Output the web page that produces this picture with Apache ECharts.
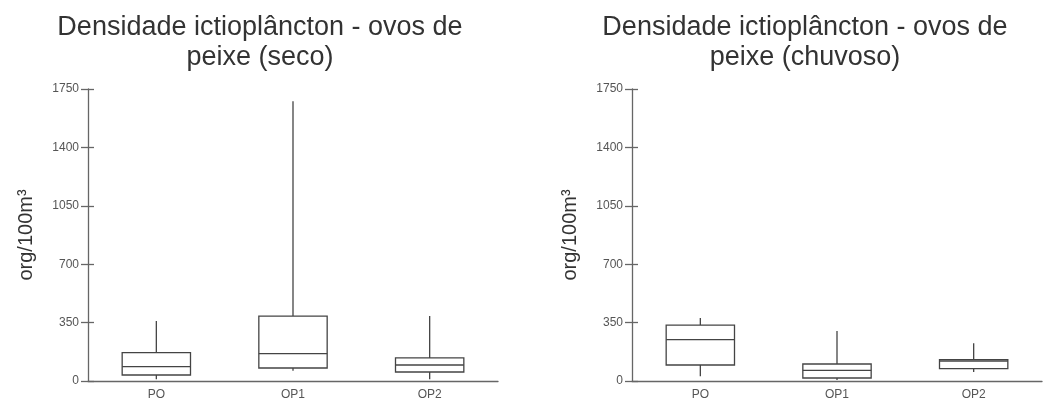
<!DOCTYPE html>
<html>
<head>
<meta charset="utf-8">
<title>Densidade ictioplâncton - ovos de peixe</title>
<script src="https://cdn.jsdelivr.net/npm/echarts@6/dist/echarts.min.js"></script>
<style>
  html, body { margin: 0; padding: 0; background: #ffffff; }
  #chart { width: 1043px; height: 401px; }
</style>
</head>
<body>
<div id="chart"></div>
<script>
// Sampling points
const categories = ['PO', 'OP1', 'OP2'];

// Box statistics per point: [min, Q1, median, Q3, max] in org/100m³
const secoStats = [
  [10, 36, 86, 170, 359],
  [62, 78, 164, 389, 1676],
  [10, 54, 96, 138, 389]
];
const chuvosoStats = [
  [28, 96, 248, 335, 377],
  [6, 18, 64, 102, 299],
  [54, 74, 120, 128, 226]
];

// Y axis ticks
const yMin = 0;
const yMax = 1750;
const yStep = 350;

const titles = [
  'Densidade ictioplâncton - ovos de\npeixe (seco)',
  'Densidade ictioplâncton - ovos de\npeixe (chuvoso)'
];
const yName = 'org/100m³';

const FONT = '"Liberation Sans", Arial, Helvetica, sans-serif';
const LINE = '#444444';
const AXIS = '#666666';
const LABEL = '#555555';

// Box-and-whisker without end caps, drawn through the axis scales
function renderBox(params, api) {
  const idx = api.value(0);
  const lo = api.coord([idx, api.value(1)]);
  const q1 = api.coord([idx, api.value(2)]);
  const med = api.coord([idx, api.value(3)]);
  const q3 = api.coord([idx, api.value(4)]);
  const hi = api.coord([idx, api.value(5)]);
  const half = api.size([1, 0])[0] * 0.25;
  const x = med[0];
  const stroke = { stroke: LINE, lineWidth: 1.3, fill: null };
  return {
    type: 'group',
    children: [
      { type: 'line', shape: { x1: x, y1: hi[1], x2: x, y2: q3[1] }, style: stroke },
      { type: 'line', shape: { x1: x, y1: q1[1], x2: x, y2: lo[1] }, style: stroke },
      { type: 'rect', shape: { x: x - half, y: q3[1], width: half * 2, height: q1[1] - q3[1] },
        style: { stroke: LINE, lineWidth: 1.3, fill: '#ffffff' } },
      { type: 'line', shape: { x1: x - half, y1: med[1], x2: x + half, y2: med[1] }, style: stroke }
    ]
  };
}

function toRows(stats) {
  return stats.map((s, i) => [i].concat(s));
}

const grids = [
  { left: 88, width: 410, top: 89, bottom: 19.5 },
  { left: 632, width: 410, top: 89, bottom: 19.5 }
];

const xAxes = grids.map((g, i) => ({
  type: 'category',
  gridIndex: i,
  data: categories,
  axisLine: { lineStyle: { color: AXIS, width: 1.3 } },
  axisTick: { show: false },
  axisLabel: { color: LABEL, fontSize: 12, fontFamily: FONT, margin: 8 },
  splitLine: { show: false }
}));

const yAxes = [];
grids.forEach((g, i) => {
  // main axis: outward ticks with labels
  yAxes.push({
    type: 'value',
    gridIndex: i,
    min: yMin, max: yMax, interval: yStep,
    name: yName,
    nameLocation: 'middle',
    nameGap: 52,
    nameTextStyle: { fontSize: 20, color: '#333333', fontFamily: FONT },
    axisLine: { show: true, lineStyle: { color: AXIS, width: 1.3 } },
    axisTick: { show: true, length: 7, lineStyle: { color: AXIS, width: 1.3 } },
    axisLabel: { color: LABEL, fontSize: 12, fontFamily: FONT, margin: 9,
      formatter: (v) => String(v) },
    splitLine: { show: false }
  });
  // overlay axis: inward half of the crossing ticks
  yAxes.push({
    type: 'value',
    gridIndex: i,
    min: yMin, max: yMax, interval: yStep,
    position: 'left',
    axisLine: { show: false },
    axisTick: { show: true, inside: true, length: 6, lineStyle: { color: AXIS, width: 1.3 } },
    axisLabel: { show: false },
    splitLine: { show: false }
  });
});

const titleStyle = { fontSize: 27, fontWeight: 'normal', color: '#333333', fontFamily: FONT, lineHeight: 30 };

const option = {
  backgroundColor: '#ffffff',
  animation: false,
  title: [
    { text: titles[0], left: 255, top: 8, textAlign: 'center', textStyle: titleStyle },
    { text: titles[1], left: 800, top: 8, textAlign: 'center', textStyle: titleStyle }
  ],
  grid: grids,
  xAxis: xAxes,
  yAxis: yAxes,
  series: [
    { type: 'custom', name: 'seco', xAxisIndex: 0, yAxisIndex: 0,
      renderItem: renderBox, encode: { x: 0, y: [1, 2, 3, 4, 5] }, data: toRows(secoStats) },
    { type: 'custom', name: 'chuvoso', xAxisIndex: 1, yAxisIndex: 2,
      renderItem: renderBox, encode: { x: 0, y: [1, 2, 3, 4, 5] }, data: toRows(chuvosoStats) }
  ]
};

const chart = echarts.init(document.getElementById('chart'), null, { renderer: 'canvas' });
chart.setOption(option);
</script>
</body>
</html>
